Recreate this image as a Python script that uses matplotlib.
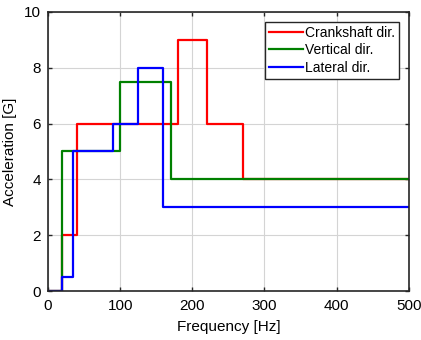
import matplotlib
matplotlib.use("Agg")
import matplotlib.pyplot as plt

plt.rcParams["font.family"] = ["Liberation Sans", "DejaVu Sans"]

# step profiles: frequency breakpoints [Hz] and acceleration levels [G]
crank_f = [0, 20, 20, 40, 40, 180, 180, 220, 220, 270, 270, 500]
crank_a = [0, 0, 2, 2, 6, 6, 9, 9, 6, 6, 4, 4]

vert_f = [0, 20, 20, 100, 100, 170, 170, 500]
vert_a = [0, 0, 5, 5, 7.5, 7.5, 4, 4]

lat_f = [0, 20, 20, 35, 35, 90, 90, 125, 125, 160, 160, 500]
lat_a = [0, 0, 0.5, 0.5, 5, 5, 6, 6, 8, 8, 3, 3]

fig = plt.figure(figsize=(4.21, 3.40), dpi=100)
ax = fig.add_axes([0.114, 0.144, 0.857, 0.821])

ax.plot(crank_f, crank_a, color="#ff0000", lw=1.6, label="Crankshaft dir.")
ax.plot(vert_f, vert_a, color="#008000", lw=1.6, label="Vertical dir.")
ax.plot(lat_f, lat_a, color="#0000ff", lw=1.6, label="Lateral dir.")

ax.set_xlim(0, 500)
ax.set_ylim(0, 10)
ax.set_xticks([0, 100, 200, 300, 400, 500])
ax.set_yticks([0, 2, 4, 6, 8, 10])
ax.grid(True, color="#d4d4d4", lw=0.8)
ax.set_axisbelow(True)
ax.tick_params(direction="in", top=True, right=True, length=3, width=1,
               labelsize=11, color="#262626")
ax.tick_params(axis="x", pad=6)
ax.tick_params(axis="y", pad=5)
for s in ax.spines.values():
    s.set_linewidth(1.2)
    s.set_color("#262626")

ax.set_xlabel("Frequency [Hz]", fontsize=11, labelpad=5)
ax.set_ylabel("Acceleration [G]", fontsize=11, labelpad=5)

leg = ax.legend(loc="upper right", fontsize=10, fancybox=False,
                framealpha=1, edgecolor="#262626", handlelength=2.4,
                handletextpad=0.15, borderpad=0.3, labelspacing=0.25,
                borderaxespad=0.7)
leg.get_frame().set_linewidth(1.0)

fig.savefig("out.png", dpi=100)
